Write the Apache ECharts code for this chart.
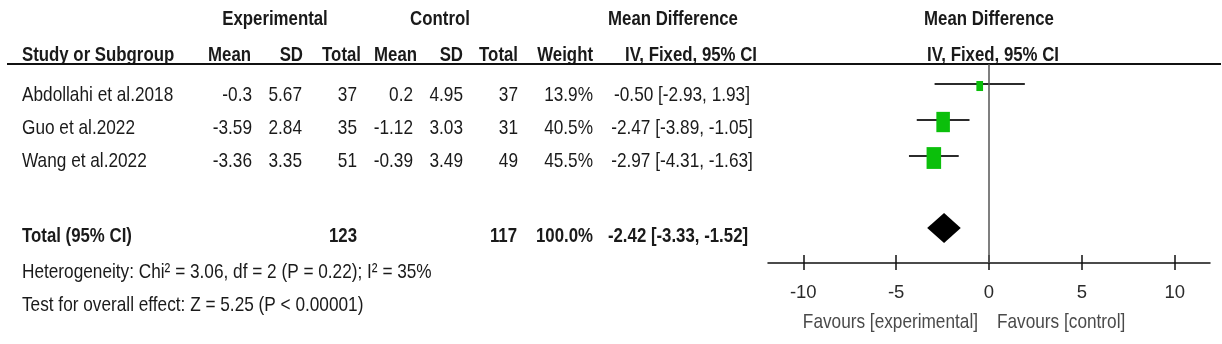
<!DOCTYPE html>
<html>
<head>
<meta charset="utf-8">
<script src="https://cdn.jsdelivr.net/npm/echarts@6/dist/echarts.min.js"></script>
<style>
  html, body { margin: 0; padding: 0; background: #fff; }
  #forest { width: 1222px; height: 344px; }
</style>
</head>
<body>
<div id="forest"></div>
<script>
// study data
const studies = ['Abdollahi et al.2018', 'Guo et al.2022', 'Wang et al.2022']
const expMean = [-0.3, -3.59, -3.36]
const expSD = [5.67, 2.84, 3.35]
const expN = [37, 35, 51]
const ctlMean = [0.2, -1.12, -0.39]
const ctlSD = [4.95, 3.03, 3.49]
const ctlN = [37, 31, 49]
const weights = [13.9, 40.5, 45.5]
const md = [-0.50, -2.47, -2.97]
const ciLow = [-2.93, -3.89, -4.31]
const ciHigh = [1.93, -1.05, -1.63]

// pooled result
const totalExpN = 123
const totalCtlN = 117
const totalWeight = 100
const totalMd = -2.42
const totalLow = -3.33
const totalHigh = -1.52
const hetText = 'Heterogeneity: Chi² = 3.06, df = 2 (P = 0.22); I² = 35%'
const testText = 'Test for overall effect: Z = 5.25 (P < 0.00001)'

const xTicks = [-10, -5, 0, 5, 10]

// layout
const FONT = "'Liberation Sans', Arial, sans-serif"
const NARROW = 0.82   // squeeze text so it looks like Arial Narrow
const rowPos = [1, 2, 3]
const totalPos = 5
const textRowY = [95, 128, 161]
const colX = [252, 302, 357, 413, 463, 518, 593]
const headX = [251, 303, 361, 417, 463, 518, 593]

function fmtCI (m, lo, hi) {
    return m.toFixed(2) + ' [' + lo.toFixed(2) + ', ' + hi.toFixed(2) + ']'
}

function txt (x, y, s, align, bold, extra) {
    return {
        type: 'text',
        x: x,
        y: y,
        scaleX: NARROW,
        silent: true,
        style: Object.assign({
            text: s,
            fontFamily: FONT,
            fontSize: bold ? 20.5 : 21,
            fontWeight: bold ? 'bold' : 'normal',
            fill: '#1a1a1a',
            textAlign: align,
            align: align,
            textVerticalAlign: 'middle',
            verticalAlign: 'middle'
        }, extra || {})
    }
}

let g = []
// header
g.push(txt(275, 19, 'Experimental', 'center', true))
g.push(txt(440, 19, 'Control', 'center', true))
g.push(txt(673, 19, 'Mean Difference', 'center', true))
g.push(txt(989, 19, 'Mean Difference', 'center', true))
g.push(txt(22, 55, 'Study or Subgroup', 'left', true))
;['Mean', 'SD', 'Total', 'Mean', 'SD', 'Total', 'Weight'].forEach((h, i) => {
    g.push(txt(headX[i], 55, h, 'right', true))
})
g.push(txt(691, 55, 'IV, Fixed, 95% CI', 'center', true))
g.push(txt(993, 55, 'IV, Fixed, 95% CI', 'center', true))
g.push({
    type: 'line',
    silent: true,
    shape: { x1: 7, y1: 64, x2: 1221, y2: 64 },
    style: { stroke: '#111', lineWidth: 2 }
})

// study rows
studies.forEach((s, i) => {
    const y = textRowY[i]
    const cells = [String(expMean[i]), expSD[i].toFixed(2), String(expN[i]),
        String(ctlMean[i]), ctlSD[i].toFixed(2), String(ctlN[i]), weights[i].toFixed(1) + '%']
    g.push(txt(22, y, s, 'left', false))
    cells.forEach((c, j) => g.push(txt(colX[j], y, c, 'right', false)))
    g.push(txt(682, y, fmtCI(md[i], ciLow[i], ciHigh[i]), 'center', false))
})

// total row
g.push(txt(22, 236, 'Total (95% CI)', 'left', true))
g.push(txt(357, 236, String(totalExpN), 'right', true))
g.push(txt(517, 236, String(totalCtlN), 'right', true))
g.push(txt(593, 236, totalWeight.toFixed(1) + '%', 'right', true))
g.push(txt(678, 236, fmtCI(totalMd, totalLow, totalHigh), 'center', true))
g.push(txt(22, 272, hetText, 'left', false))
g.push(txt(22, 305, testText, 'left', false))

// favours labels
g.push(txt(978, 322, 'Favours [experimental]', 'right', false, { fill: '#4a4a4a' }))
g.push(txt(997, 322, 'Favours [control]', 'left', false, { fill: '#4a4a4a' }))

const option = {
    animation: false,
    graphic: g,
    grid: { left: 768, right: 12, top: 64, bottom: 81 },
    xAxis: [
        {
            type: 'value',
            min: -11.9,
            max: 11.9,
            axisLine: { lineStyle: { color: '#111', width: 1.5 } },
            axisTick: { length: 7, customValues: xTicks, lineStyle: { color: '#111', width: 1.5 } },
            axisLabel: { customValues: xTicks, fontFamily: FONT, fontSize: 18.5, color: '#2a2a2a', margin: 20 },
            splitLine: { show: false }
        },
        {
            type: 'value',
            min: -11.9,
            max: 11.9,
            position: 'bottom',
            axisLine: { show: false },
            axisTick: { inside: true, length: 8, customValues: xTicks, lineStyle: { color: '#111', width: 1.5 } },
            axisLabel: { show: false },
            splitLine: { show: false }
        }
    ],
    yAxis: {
        type: 'value',
        inverse: true,
        min: 0.444,
        max: 5.972,
        show: false
    },
    series: [
        {
            type: 'custom',
            silent: true,
            renderItem: (params, api) => {
                const p1 = api.coord([api.value(0), api.value(2)])
                const p2 = api.coord([api.value(1), api.value(2)])
                return {
                    type: 'line',
                    shape: { x1: p1[0], y1: p1[1], x2: p2[0], y2: p2[1] },
                    style: { stroke: '#2b2b2b', lineWidth: 2.2 }
                }
            },
            encode: { x: [0, 1], y: 2 },
            data: studies.map((s, i) => [ciLow[i], ciHigh[i], rowPos[i]])
        },
        {
            type: 'scatter',
            silent: true,
            symbol: 'rect',
            symbolOffset: [0, 2],
            symbolSize: (val, params) => {
                const w = 2.6 * Math.sqrt(weights[params.dataIndex]) - 3
                return [w, w * 1.5]
            },
            itemStyle: { color: '#0bbf0b', opacity: 1 },
            data: studies.map((s, i) => [md[i], rowPos[i]]),
            markLine: {
                silent: true,
                symbol: 'none',
                label: { show: false },
                lineStyle: { color: '#555', width: 1.5, type: 'solid' },
                data: [{ xAxis: 0 }]
            },
            z: 3
        },
        {
            type: 'custom',
            silent: true,
            renderItem: (params, api) => {
                const est = api.value(0)
                const y = api.value(3)
                const h = 0.417
                const pts = [
                    api.coord([api.value(1), y]),
                    api.coord([est, y - h]),
                    api.coord([api.value(2), y]),
                    api.coord([est, y + h])
                ]
                return { type: 'polygon', shape: { points: pts }, style: { fill: '#000' } }
            },
            encode: { x: [0, 1, 2], y: 3 },
            data: [[totalMd, totalLow, totalHigh, totalPos]]
        }
    ]
}

const chart = echarts.init(document.getElementById('forest'))
chart.setOption(option)
</script>
</body>
</html>
